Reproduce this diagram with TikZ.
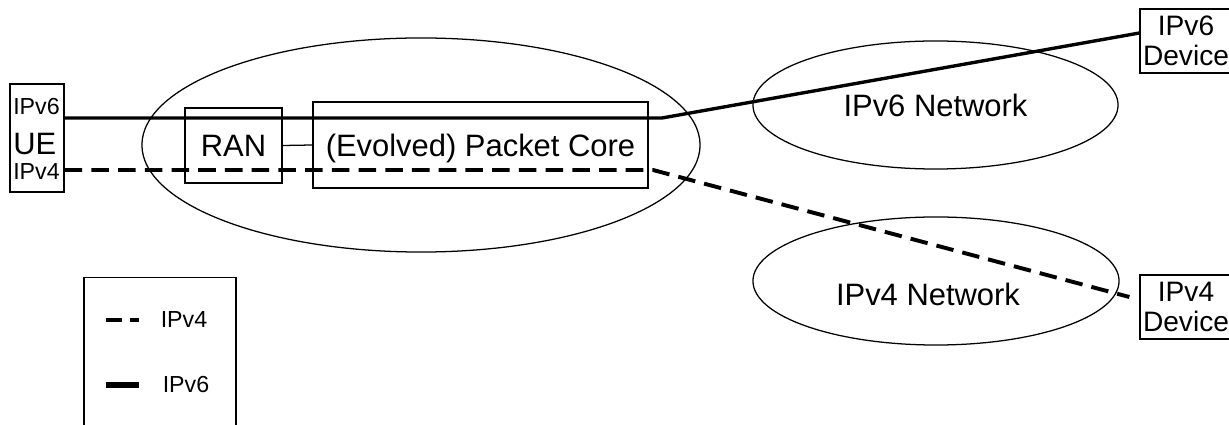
\documentclass[tikz,border=0pt]{standalone}
\usepackage{fontspec}
\setmainfont{Liberation Sans}
\usetikzlibrary{shapes.geometric}

\tikzset{
  box/.style={draw, line width=0.9pt, inner sep=0pt},
  netw/.style={draw, ellipse, line width=0.9pt, inner sep=0pt},
  big/.style={font=\fontsize{22}{24}\selectfont},
  small/.style={font=\fontsize{16.5}{18}\selectfont},
  devtext/.style={font=\fontsize{20}{21.5}\selectfont, align=center},
  v6line/.style={line width=2.4pt},
  v4line/.style={line width=2.8pt, dash pattern=on 12.5pt off 6.5pt}
}

\begin{document}
\begin{tikzpicture}[x=0.025cm,y=-0.025cm]
					\useasboundingbox (0,0) rectangle (1229,425);
					% UE side
					\node[box, minimum width=1.35cm, minimum height=2.7cm] (ue) at (37,138) {};
					\node[small, inner sep=0pt, anchor=base west] (ue6) at (13,115) {IPv6};
					\node[big, inner sep=0pt, anchor=base west] (uelabel) at (13,155) {UE};
					\node[small, inner sep=0pt, anchor=base west] (ue4) at (13,180) {IPv4};
					% mobile network
					\node[netw, minimum width=13.95cm, minimum height=5.35cm] (epc) at (421,145) {};
					\node[box, big, minimum width=2.425cm, minimum height=1.875cm] (ran) at (233.5,145.5) {RAN};
					\node[box, big, text depth=0pt, minimum width=8.375cm, minimum height=2.15cm] (core) at (480.5,145) {(Evolved) Packet Core};
					\draw[line width=0.9pt] (ran.east)--(core.west);
					% outside networks
					\node[netw, big, minimum width=9.125cm, minimum height=3.2cm] (net6) at (935.5,105) {IPv6 Network};
					\node[netw, minimum width=9.15cm, minimum height=3.2cm] (net4) at (936,281) {};
					\node[big] (net4label) at (928,294.5) {IPv4 Network};
					\node[box, devtext, minimum width=2.3cm, minimum height=1.6cm] (dev6) at (1186,41) {IPv6\\Device};
					\node[box, devtext, minimum width=2.3cm, minimum height=1.6cm] (dev4) at (1186,307) {IPv4\\Device};
					% paths
					\coordinate (bend6) at (662,118);
					\coordinate (bend4) at (653,170);
					\draw[v6line] (ue.east|-bend6)--(bend6)--([yshift=0.2cm]dev6.west);
					\draw[v4line] (ue.east|-bend4)--(bend4)--([xshift=-0.25cm,yshift=0.25cm]dev4.west);
					% legend
					\node[box, minimum width=3.8cm, minimum height=4.5cm, anchor=north] (legend) at (160,277) {};
					\coordinate (key4) at (106,320);
					\coordinate (key6) at (106,385);
					\draw[line width=2.8pt, dash pattern=on 11.3pt off 5.7pt] (key4)--++(33,0);
					\draw[line width=4.6pt] (key6)--++(33,0);
					\node[small] (key4label) at (184,320) {IPv4};
					\node[small] (key6label) at (186,385) {IPv6};
				\end{tikzpicture}
\end{document}
